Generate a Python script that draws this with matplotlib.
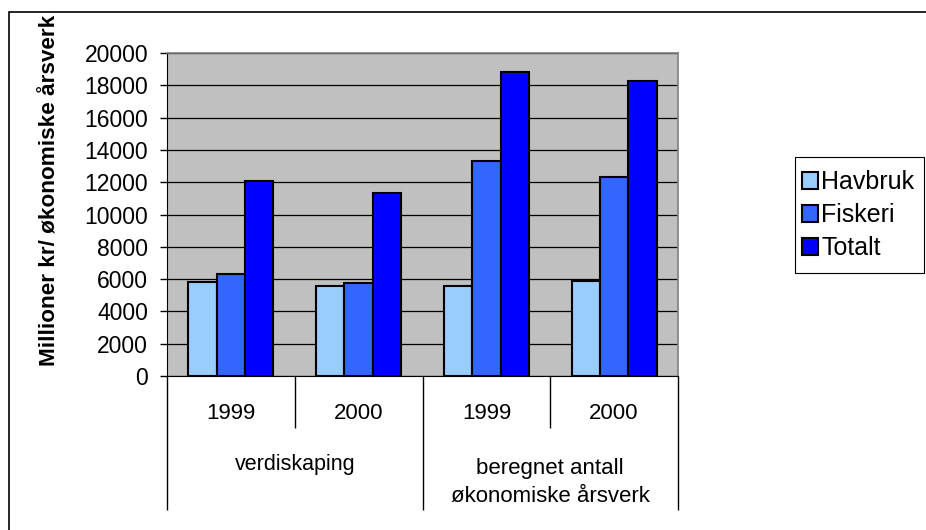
import numpy as np
import matplotlib.pyplot as plt
from matplotlib.patches import Rectangle, Patch

# ---------------------------
# Data
# ---------------------------
years = ["1999", "2000", "1999", "2000"]
groups = ["verdiskaping", "beregnet antall\nøkonomiske årsverk"]
series_names = ["Havbruk", "Fiskeri", "Totalt"]
havbruk = [5800, 5600, 5550, 5900]
fiskeri = [6300, 5750, 13300, 12350]
totalt = [12100, 11350, 18850, 18250]
colors = ["#99CCFF", "#3366FF", "#0000FF"]

plt.rcParams['font.family'] = ['Liberation Sans', 'DejaVu Sans']
FS = 16.5

fig = plt.figure(figsize=(9.26, 5.30), dpi=100)
ax = fig.add_axes([167/926, 1-376/530, (678-167)/926, (376-53)/530])
ax.set_facecolor("#C0C0C0")

x = np.arange(len(years))
w = 0.222
for i, (vals, c) in enumerate(zip([havbruk, fiskeri, totalt], colors)):
    ax.bar(x + (i-1)*w, vals, width=w, color=c, edgecolor="black", linewidth=1.5, zorder=3)

ax.set_xlim(-0.5, 3.5)
ax.set_ylim(0, 20000)
ax.set_yticks(np.arange(0, 20001, 2000))
ax.yaxis.grid(True, color="black", linewidth=0.9, zorder=1)
ax.tick_params(axis="y", direction="out", length=5, width=1, labelsize=FS, pad=8.5)

for s in ["top", "right"]:
    ax.spines[s].set_color("#808080")
    ax.spines[s].set_linewidth(1.2)
ax.spines["left"].set_color("black")
ax.spines["bottom"].set_color("black")

# kategori-akse med to nivaer
ax.set_xticks([-0.5, 1.5, 3.5])
ax.set_xticklabels([])
ax.set_xticks([0.5, 2.5], minor=True)
ax.tick_params(axis="x", which="major", direction="out", length=96.5, width=1, color="black")
ax.tick_params(axis="x", which="minor", direction="out", length=37.5, width=1, color="black")

trans = ax.get_xaxis_transform()
for xi, yr in zip(x, years):
    ax.text(xi, -0.115, yr, transform=trans, ha="center", va="center", fontsize=16)
ax.text(0.5, -0.275, groups[0], transform=trans, ha="center", va="center", fontsize=15.5)
ax.text(2.5, -0.33, groups[1], transform=trans, ha="center", va="center", fontsize=16,
        linespacing=1.45)

fig.text(50/926, 1-190/530, "Millioner kr/ økonomiske årsverk", rotation=90,
         ha="center", va="center", fontsize=16.2, fontweight="bold")

# forklaring (ramme tegnes for seg)
handles = [Patch(facecolor=c, edgecolor="black", linewidth=1.5) for c in colors]
leg = fig.legend(handles, series_names, loc="center left",
                 bbox_to_anchor=(797/926, 1-215/530), fontsize=18, frameon=False,
                 handlelength=0.65, handleheight=0.65, handletextpad=0.12,
                 labelspacing=0.36, borderpad=0.2, borderaxespad=0)
fig.patches.append(Rectangle((795/926, 1-273/530), 129/926, 116/530, transform=fig.transFigure,
                             fill=False, edgecolor="black", linewidth=0.8))

# ramme rundt diagrammet
fig.patches.append(Rectangle((9/926, -0.1), 1.1, 1.1 - 12/530, transform=fig.transFigure,
                             fill=False, edgecolor="black", linewidth=1.2))

fig.savefig("out.png", dpi=100)
